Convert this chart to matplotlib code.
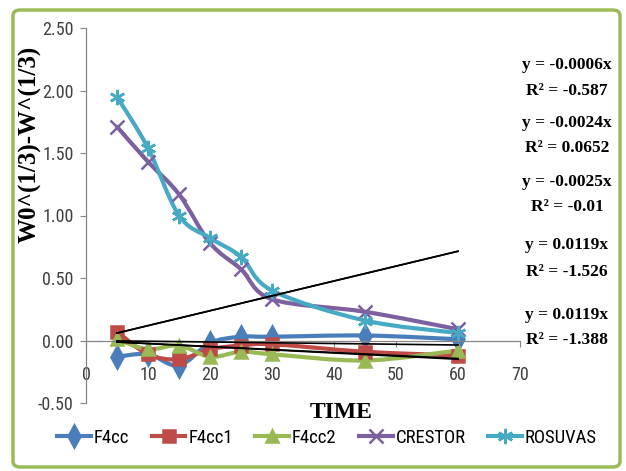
import numpy as np
import matplotlib.pyplot as plt
from matplotlib.path import Path
from matplotlib.patches import PathPatch, FancyBboxPatch
from matplotlib.lines import Line2D
from matplotlib import font_manager

# dissolution data, cube-root law
time = [5, 10, 15, 20, 25, 30, 45, 60]
f4cc = [-0.13, -0.11, -0.20, -0.02, 0.03, 0.03, 0.04, 0.01]
f4cc1 = [0.07, -0.11, -0.15, -0.07, -0.04, -0.03, -0.09, -0.12]
f4cc2 = [0.01, -0.07, -0.04, -0.13, -0.09, -0.11, -0.16, -0.08]
crestor = [1.71, 1.43, 1.17, 0.78, 0.57, 0.33, 0.23, 0.09]
rosuvas = [1.95, 1.54, 1.00, 0.82, 0.67, 0.40, 0.16, 0.06]

series_names = ['F4cc', 'F4cc1', 'F4cc2', 'CRESTOR', 'ROSUVAS']
trend_slopes = [-0.0006, -0.0024, -0.0025, 0.0119, 0.0119]
trend_r2 = ['-0.587', '0.0652', '-0.01', '-1.526', '-1.388']

colors = ['#4A7EBB', '#BE4B48', '#98B954', '#7D60A0', '#46AAC5']
markers = ['d', 's', '^', 'x', (6, 2, 0)]
msizes = [11, 8, 9, 10, 11]

# narrow sans for ticks and legend, whatever is installed
names = {f.name for f in font_manager.fontManager.ttflist}
sans = next(n for n in ['Liberation Sans Narrow', 'Roboto Condensed', 'Roboto', 'Liberation Sans']
            if n in names)
serif = 'Liberation Serif'
tick_color = '#404040'
axis_color = '#868686'


def smooth_path(x, y):
    # Catmull-Rom segments turned into cubic Bezier curves
    pts = np.column_stack([x, y]).astype(float)
    verts = [pts[0]]
    codes = [Path.MOVETO]
    n = len(pts)
    for i in range(n - 1):
        p0 = pts[i - 1] if i > 0 else pts[i]
        p1 = pts[i]
        p2 = pts[i + 1]
        p3 = pts[i + 2] if i + 2 < n else pts[i + 1]
        c1 = p1 + (p2 - p0) / 6
        c2 = p2 - (p3 - p1) / 6
        verts += [c1, c2, p2]
        codes += [Path.CURVE4] * 3
    return Path(verts, codes)


fig = plt.figure(figsize=(6.26, 4.71), dpi=100)
ax = fig.add_axes([86 / 626, 1 - 403 / 471, 434 / 626, 375 / 471])

data = [f4cc, f4cc1, f4cc2, crestor, rosuvas]
handles = []
for vals, name, c, m, ms in zip(data, series_names, colors, markers, msizes):
    ax.add_patch(PathPatch(smooth_path(time, vals), facecolor='none', edgecolor=c,
                           lw=3, capstyle='round', joinstyle='round'))
    ax.plot(time, vals, linestyle='none', marker=m, ms=ms, color=c, mew=1.8)
    handles.append(Line2D([], [], color=c, lw=3, marker=m, ms=ms, mew=1.8, label=name))

# linear trendlines through the origin
t = np.array([time[0], time[-1]])
for s in trend_slopes:
    ax.plot(t, s * t, color='black', lw=1.2, zorder=5)

ax.set_xlim(0, 70)
ax.set_ylim(-0.5, 2.5)
ax.set_xticks(range(0, 71, 10))
ax.set_yticks(np.arange(-0.5, 2.51, 0.5))
ax.yaxis.set_major_formatter(plt.FormatStrFormatter('%.2f'))
ax.spines['top'].set_visible(False)
ax.spines['right'].set_visible(False)
ax.spines['bottom'].set_position(('data', 0))
for sp in ('left', 'bottom'):
    ax.spines[sp].set_color(axis_color)
    ax.spines[sp].set_linewidth(0.9)
ax.tick_params(axis='both', direction='out', length=4, color=axis_color,
               labelcolor=tick_color, labelsize=13)
ax.tick_params(axis='x', pad=14)
ax.tick_params(axis='y', pad=5)
for lab in ax.get_xticklabels() + ax.get_yticklabels():
    lab.set_family(sans)

fig.text(341 / 626, 1 - 412 / 471, 'TIME', family=serif, weight='bold',
         fontsize=17, ha='center', va='center')
fig.text(30 / 626, 1 - 144 / 471, 'W0^(1/3)-W^(1/3)', family=serif, weight='bold',
         fontsize=18, ha='center', va='center', rotation=90)

# trendline equations in the right margin
eq_rows = [(65, 91), (123, 148), (182, 207), (245, 272), (315, 340)]
for s, r2, (ye, yr) in zip(trend_slopes, trend_r2, eq_rows):
    fig.text(567 / 626, 1 - ye / 471, f'y = {s:g}x', family=serif, weight='bold',
             fontsize=12.5, ha='center', va='center')
    fig.text(567 / 626, 1 - yr / 471, f'R² = {r2}', family=serif, weight='bold',
             fontsize=12.5, ha='center', va='center')

fig.legend(handles=handles, loc='center', bbox_to_anchor=(327 / 626, 1 - 438 / 471),
           ncol=5, frameon=False, handlelength=1.8, handletextpad=0.15,
           columnspacing=1.2, prop={'family': sans, 'size': 13.5})

fig.add_artist(FancyBboxPatch((13 / 626, 1 - 467 / 471), 607 / 626, 457 / 471,
                              boxstyle='round,pad=0,rounding_size=0.012',
                              transform=fig.transFigure, facecolor='none',
                              edgecolor='#9BBB59', lw=2.5))

fig.savefig('out.png', dpi=100)
